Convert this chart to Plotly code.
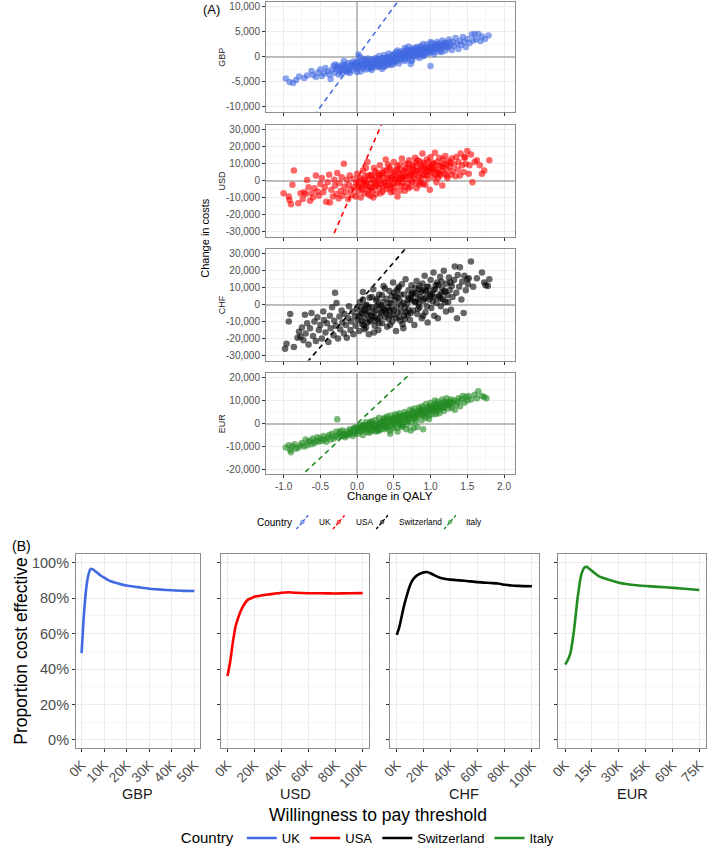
import plotly.graph_objects as go

W, H = 709, 853


def fx(p):
    return p / W


def fy(p):
    return 1 - p / H


countries = ["UK", "USA", "Switzerland", "Italy"]
currencies = ["GBP", "USD", "CHF", "EUR"]
colors = ["royalblue", "red", "black", "forestgreen"]
wtp_thresholds = [20000, 100000, 50000, 30000]

# ---- Panel A: change in QALY vs change in costs ----
gbp_points = [
    (-0.97, -4300), (-0.92, -5000), (-0.87, -5200), (-0.83, -4600), (-0.79, -3900), (-0.72, -4200),
    (-0.68, -3700), (-0.62, -2800), (-0.6, -3600), (-0.56, -4000), (-0.53, -3100), (-0.5, -2500),
    (-0.48, -3800), (-0.45, -3300), (-0.43, -2200), (-0.4, -2900), (-0.38, -3500), (-0.36, -4400),
    (-0.34, -2600), (-0.32, -1800), (-0.31, -3200),
    (-0.28, -2400), (-0.26, -1700), (-0.24, -2900), (-0.22, -2100), (-0.2, -3300), (-0.19, -1500),
    (-0.17, -2600), (-0.15, -2000), (-0.13, -3000), (-0.12, -1200), (-0.1, -2300), (-0.08, -1800),
    (-0.07, -2700), (-0.05, -900), (-0.04, -2100), (-0.02, -1500), (0.0, -2400), (0.01, -1100),
    (0.02, 500), (0.03, -1800), (0.05, -2900), (0.06, -700), (0.07, -1400), (0.09, -2000),
    (0.1, -600), (0.11, -1600), (0.12, -2500), (0.14, -1000), (0.15, -300), (0.16, -1800),
    (0.18, -1300), (0.19, -2200), (0.2, -500), (0.22, -1100), (0.23, -1700), (0.25, -200),
    (0.26, -900), (0.27, -2000), (0.29, -1300), (0.3, 200), (0.31, -600), (0.33, -1500),
    (0.34, -300), (0.35, -1000), (0.37, 400), (0.38, -1800), (0.39, -500), (0.41, 0),
    (0.42, -1200), (0.43, 700), (0.45, -400), (0.46, -900), (0.47, 300), (0.49, -1500),
    (0.5, 600), (0.51, -200), (0.53, 1000), (0.54, -700), (0.55, 200), (0.57, -1300),
    (0.58, 900), (0.59, 400), (0.61, -300), (0.62, 1200), (0.63, 600), (0.65, -800),
    (0.66, 100), (0.67, 1500), (0.69, 700), (0.7, -100), (0.71, 1100), (0.73, -1400),
    (0.74, 400), (0.75, 1700), (0.77, 900), (0.78, 200), (0.79, 1300), (0.81, 2000),
    (0.82, 600), (0.83, 1000), (0.85, -200), (0.86, 1600), (0.87, 2200), (0.89, 800),
    (0.9, 1400), (0.91, 300), (0.93, 1900), (0.94, 1100), (0.95, 2500), (0.97, 700),
    (0.98, 1600), (1.0, 2100), (1.01, 1200), (1.02, 2800), (1.04, 1800), (1.05, 600),
    (1.06, 2300), (1.08, 1500), (1.09, 3000), (1.1, 2000), (1.12, 1100), (1.13, 2600),
    (1.15, 1800), (1.16, 3300), (1.18, 2200), (1.2, 1300), (1.21, 2800), (1.23, 1900),
    (1.25, 3500), (1.27, 2400), (1.29, 1400), (1.3, 3000),
    (1.32, 2200), (1.34, 3800), (1.36, 2700), (1.38, 1600), (1.4, 3200), (1.42, 2400),
    (1.44, 4000), (1.46, 3000), (1.48, 2000), (1.5, 3600), (1.53, 2800), (1.56, 4500),
    (1.58, 3300), (1.6, 4600), (1.62, 3500), (1.65, 4600), (1.68, 3200), (1.7, 4100),
    (1.74, 3600), (1.79, 4300), (1.0, -1800), (0.74, -800),
    (-0.05, -1600), (0.0, -900), (0.04, -1300), (0.08, -2300), (0.13, -800), (0.17, -1500),
    (0.21, -2100), (0.24, -600), (0.28, -1700), (0.32, -900), (0.36, -2000), (0.4, -200),
    (0.44, -1100), (0.48, 100), (0.52, -900), (0.56, 500), (0.6, -600), (0.64, 900),
    (0.68, -300), (0.72, 1300), (0.76, 300), (0.8, 900), (0.84, 1900), (0.88, 500),
    (0.92, 1500), (0.96, 2000), (0.99, 900), (1.03, 1700), (1.07, 2500), (1.11, 1600),
    (1.14, 2200), (1.19, 2900), (1.24, 2000), (0.3, -1900), (0.45, -1600), (0.6, 200),
    (0.75, -600), (0.2, -2600), (0.1, -1300), (-0.15, -2800), (-0.2, -1900), (0.55, 1300),
    (0.7, 2100), (0.85, 600), (1.0, 3000), (0.35, -200), (0.5, -1100), (0.65, 1800),
    (0.9, 2600), (1.15, 1000), (-0.1, -3200), (0.05, -100), (0.0, -3000), (-0.25, -3500),
    (-0.3, -1500), (-0.18, -800),
    (0.02, -2000), (0.06, -1700), (0.11, -400), (0.16, -2300), (0.19, -700), (0.23, -1300),
    (0.27, -400), (0.31, -1200), (0.34, -2400), (0.38, -700), (0.41, -1600), (0.43, -300),
    (0.47, -700), (0.51, 400), (0.54, -400), (0.58, -100), (0.62, 300), (0.66, -400),
    (0.69, 1200), (0.71, 500), (0.74, 1000), (0.78, 1700), (0.81, 100), (0.83, 1300),
    (0.87, 1200), (0.9, 200), (0.93, 800), (0.97, 1400), (1.01, 1800), (1.04, 1000),
    (1.06, 1900), (1.1, 2600), (1.13, 1500), (1.17, 2400), (1.22, 2300), (1.26, 2900),
    (-0.08, -1300), (-0.12, -2500), (-0.16, -1600), (-0.22, -2700), (-0.27, -2000),
    (0.14, -1600), (0.26, -1500), (0.39, -1000), (0.52, -300), (0.63, 100), (0.77, 700),
    (0.88, 1500), (0.99, 1700), (1.08, 2100),
]

usd_points = [
    (-1.0, -7500), (-0.93, -9500), (-0.92, -11500), (-0.9, -14000), (-0.88, -2500), (-0.86, 6000),
    (-0.8, -13500), (-0.77, -7500), (-0.74, -11000), (-0.72, -7000), (-0.7, -8000), (-0.68, 300),
    (-0.66, -4000), (-0.64, -12000), (-0.62, -7500), (-0.6, -10000), (-0.58, -4500), (-0.56, 3000),
    (-0.54, -6500), (-0.52, -9000), (-0.5, -2000), (-0.48, 1500), (-0.46, -7000), (-0.44, -4000),
    (-0.42, -12500), (-0.4, -1000), (-0.38, 3500), (-0.37, -13000), (-0.35, -5500), (-0.33, -9500),
    (-0.31, 500), (-0.3, -3000), (-0.28, -8000), (-0.27, 4500), (-0.25, -10500), (-0.24, -1500),
    (-0.22, -6000), (-0.21, 2000), (-0.2, -9000), (-0.18, 10000), (-0.17, -3500), (-0.15, -7000),
    (-0.14, 500), (-0.12, -11000), (-0.11, -2500), (-0.1, 3000), (-0.08, -5500), (-0.07, -8500),
    (-0.05, 1000), (-0.04, -4000), (-0.02, -9500), (-0.01, -1500),
    (0.0, 4000), (0.01, -6500), (0.03, -2500), (0.04, 1500), (0.05, -10000), (0.06, -4500),
    (0.08, 6000), (0.09, -1000), (0.1, -7500), (0.11, 2500), (0.13, -3000), (0.14, 11000),
    (0.15, -5500), (0.16, 500), (0.18, -9000), (0.19, 3500), (0.2, -1500), (0.21, -6000),
    (0.23, 7500), (0.24, -3500), (0.25, 1500), (0.26, -8000), (0.28, 4500), (0.29, -500),
    (0.3, -4500), (0.31, 9000), (0.33, -2000), (0.34, 2500), (0.35, -6500), (0.36, 6000),
    (0.38, -1000), (0.39, 12500), (0.4, -5000), (0.41, 3000), (0.43, -2500), (0.44, 8000),
    (0.45, 500), (0.46, -7000), (0.48, 4500), (0.49, -1500), (0.5, 11000), (0.51, -4000),
    (0.53, 2000), (0.54, 6500), (0.55, -9500), (0.56, -500), (0.58, 9500), (0.59, 3500),
    (0.6, -3000), (0.61, 13000), (0.63, 1000), (0.64, 6000), (0.65, -6000), (0.66, 10000),
    (0.68, 2500), (0.69, -1500), (0.7, 7500), (0.71, 12000), (0.73, -3500), (0.74, 4000),
    (0.75, -500), (0.76, 9000), (0.78, 1500), (0.79, 13500), (0.8, 5500), (0.81, -4500),
    (0.83, 8500), (0.84, 2000), (0.85, 11500), (0.86, -1000), (0.88, 6500), (0.89, 16000),
    (0.9, 3500), (0.91, 9500), (0.93, -2500), (0.94, 5500), (0.95, 12500), (0.96, 1000),
    (0.98, 8000), (0.99, -5500), (1.0, 14000), (1.01, 4500), (1.03, 10500), (1.04, 2000),
    (1.05, 7000), (1.06, 16500), (1.08, -1000), (1.09, 11000), (1.1, 5000), (1.12, 13500),
    (1.13, 3000), (1.15, 8500), (1.16, -3000), (1.18, 10000), (1.19, 4000), (1.2, 14500),
    (1.22, 6500), (1.23, 1500), (1.25, 11500), (1.26, 8000), (1.28, 3500), (1.29, 13000),
    (1.3, 5500),
    (1.32, 9500), (1.34, 2500), (1.35, 14000), (1.37, 6500), (1.38, 11000), (1.4, 3000),
    (1.41, 16000), (1.43, 9000), (1.45, 5000), (1.46, 13500), (1.47, 14000), (1.48, 10000),
    (1.5, 17500), (1.52, 4000), (1.53, 9000), (1.55, 15500), (1.57, -1000), (1.6, 11000),
    (1.63, 12000), (1.67, 9000), (1.7, 4000), (1.73, 6000), (1.8, 12000),
    (0.2, 3000), (0.3, 1000), (0.4, -3000), (0.5, 3000), (0.6, 6500), (0.7, -4500),
    (0.8, 10500), (0.9, -2000), (0.35, 4500), (0.45, -4500), (0.55, 8500), (0.65, 2500),
    (0.75, 5000), (0.85, 4500), (0.95, 7500), (0.25, -2000), (0.15, 3000), (0.05, 500),
    (0.1, -2500), (0.42, 9500), (0.58, -6000), (0.72, 3500), (0.82, 12000), (0.92, 7000),
    (1.02, 6000), (1.12, 9000), (1.22, 9500), (0.62, -1500), (0.52, 5500), (0.32, -7500),
    (0.22, -10000), (0.12, 7500), (0.47, 1500), (0.67, 4500), (0.87, 1000), (0.97, 11000),
    (1.07, 3500), (1.17, 12500), (0.77, 6500), (0.57, 1000),
    (0.02, -3500), (0.07, -5500), (0.12, -1500), (0.17, -4000), (0.22, 500), (0.27, -2500),
    (0.32, 3500), (0.37, -500), (0.42, 1500), (0.47, -3000), (0.52, 500), (0.57, 4500),
    (0.62, 2000), (0.67, 7000), (0.72, 500), (0.77, 3000), (0.82, 5500), (0.87, 8000),
    (0.92, 3500), (0.97, 5000), (1.02, 9000), (1.07, 6500), (1.12, 4000), (1.17, 8000),
    (1.22, 3000), (1.27, 10500), (0.15, -8000), (0.25, 5500), (0.35, -3500), (0.45, 6500),
    (0.55, -1500), (0.65, -3500), (0.75, 8000), (0.85, -2500), (0.95, 3000), (1.05, 10000),
    (1.15, 5500), (0.3, 3000), (0.5, -6500), (0.7, 10000), (0.9, 10500), (1.1, 1500),
    (0.4, 6000), (0.6, 1500), (0.8, -1500), (1.0, 7500), (0.2, -4500), (0.1, 500),
]

chf_points = [
    (-0.98, -26000), (-0.96, -23000), (-0.93, -10000), (-0.91, -5500), (-0.86, -25000),
    (-0.81, -19500), (-0.79, -16000), (-0.77, -19000), (-0.75, -13500), (-0.73, -21000),
    (-0.71, -6000), (-0.7, -17000), (-0.68, -11000), (-0.66, -23500), (-0.64, -14000),
    (-0.62, -5000), (-0.6, -18500), (-0.58, -10000), (-0.56, -21500), (-0.54, -7500),
    (-0.52, -15000), (-0.5, -12000), (-0.48, -20000), (-0.46, -4000), (-0.45, -9000),
    (-0.43, -16500), (-0.41, -11000), (-0.39, -22000), (-0.37, -6500), (-0.36, -14000),
    (-0.34, -1500), (-0.32, -18000), (-0.31, -9500), (-0.29, -12500), (-0.28, 1000),
    (-0.26, -20000), (-0.24, -7000), (-0.23, -14500), (-0.21, -3500), (-0.2, -10500),
    (-0.18, -17000), (-0.17, -5500), (-0.15, -12000), (-0.14, -19500), (-0.12, -8000),
    (-0.11, -1000), (-0.09, -15000), (-0.08, -10000), (-0.06, -4000), (-0.05, -17500),
    (-0.03, -7000), (-0.02, -12500), (-0.3, 7000),
    (0.0, -2500), (0.01, -9000), (0.03, -15500), (0.04, 1500), (0.05, -5500), (0.07, -11500),
    (0.08, 7500), (0.09, -3000), (0.1, -8000), (0.12, -13500), (0.13, 0), (0.14, -6000),
    (0.16, -17500), (0.17, 4000), (0.18, -10000), (0.2, -1500), (0.21, -7000), (0.22, 9000),
    (0.24, -12500), (0.25, -3500), (0.26, 2500), (0.28, -8500), (0.29, -15000), (0.3, 6000),
    (0.32, -5000), (0.33, -500), (0.34, -11000), (0.36, 11000), (0.37, -3000), (0.38, -7500),
    (0.4, 3500), (0.41, -13000), (0.42, -1500), (0.44, 8000), (0.45, -6500), (0.46, 1000),
    (0.48, -10000), (0.49, 13000), (0.5, -3500), (0.52, 5000), (0.53, -15500), (0.54, -1000),
    (0.56, 9500), (0.57, -7500), (0.58, 2500), (0.6, -4000), (0.61, 12000), (0.62, -11500),
    (0.64, 6000), (0.65, -2000), (0.66, 15000), (0.68, 500), (0.69, -6000), (0.7, 8500),
    (0.72, -9000), (0.73, 3500), (0.74, 11500), (0.76, -3500), (0.77, 6500), (0.78, -12000),
    (0.8, 1500), (0.81, 14000), (0.82, -5500), (0.84, 9000), (0.85, -1500), (0.86, 4500),
    (0.88, -8000), (0.89, 12500), (0.9, 2000), (0.92, 17000), (0.93, -4500), (0.94, 7500),
    (0.96, -10500), (0.97, 10500), (0.98, 3000), (1.0, 14500), (1.01, -2000), (1.02, 6000),
    (1.04, 19000), (1.05, -6500), (1.06, 9000), (1.08, 1000), (1.09, 13000), (1.1, -8000),
    (1.12, 5500), (1.13, 16500), (1.14, -1000), (1.16, 10000), (1.17, 3000), (1.18, 20000),
    (1.2, 7500), (1.21, -4000), (1.22, 12500), (1.24, 1500), (1.25, 16000), (1.26, 8500),
    (1.28, -3000), (1.29, 11000), (1.3, 4500),
    (1.32, 14500), (1.33, 22500), (1.35, 7000), (1.36, -8000), (1.37, 17500), (1.39, 10500),
    (1.4, 22000), (1.42, 3000), (1.43, 13500), (1.45, -5000), (1.46, 17000), (1.48, 8500),
    (1.5, 15000), (1.51, 12000), (1.52, 15500), (1.55, 25500), (1.58, 10500), (1.63, 15500),
    (1.7, 19000), (1.73, 13000), (1.75, 11500), (1.78, 11000), (1.8, 15000),
    (0.15, -4500), (0.25, -9500), (0.35, 1500), (0.45, -12000), (0.55, 4000), (0.65, -8500),
    (0.75, 2500), (0.85, 11000), (0.95, -1000), (1.05, 4500), (1.15, 7000), (0.05, -1500),
    (0.1, -14500), (0.2, 4500), (0.3, -11000), (0.4, -5500), (0.5, 7000), (0.6, -500),
    (0.7, -3000), (0.8, 6500), (0.9, -6500), (1.0, 5000), (1.1, 11500), (1.2, 1500),
    (0.12, -500), (0.27, 3500), (0.43, -8500), (0.57, 10500), (0.63, -14000), (0.83, 3500),
    (0.47, 5000), (0.33, -4000), (0.17, -9000), (0.07, -5000), (0.93, 8500), (0.73, -5000),
    (0.53, -8000), (0.38, 9500), (0.23, -16500), (0.08, 3000),
    (0.02, -6500), (0.06, -9500), (0.11, -3500), (0.16, -1500), (0.19, -6500), (0.23, -4500),
    (0.27, -1000), (0.31, -7500), (0.35, -2000), (0.39, -4000), (0.43, 1000), (0.47, -2500),
    (0.51, 2500), (0.55, -4500), (0.59, 6000), (0.63, 1000), (0.67, -4500), (0.71, 4000),
    (0.75, 7000), (0.79, 1500), (0.83, -2500), (0.87, 7500), (0.91, 3500), (0.95, 10500),
    (0.99, 6500), (1.03, 2000), (1.07, 11500), (1.11, 4500), (1.15, 13500), (1.19, 8000),
    (1.23, 5500), (1.27, 13000), (0.14, -10500), (0.24, -7500), (0.34, 5500), (0.44, -3500),
    (0.54, 8500), (0.64, -6500), (0.74, 5500), (0.84, 500), (0.94, 4000), (1.04, 8500),
    (1.14, 3500), (0.29, 0), (0.49, -6000), (0.69, 3000), (0.89, 8500), (0.09, -12000),
    (0.59, -9500), (0.79, 10000),
]

eur_points = [
    (-0.97, -10500), (-0.93, -9500), (-0.91, -11500), (-0.9, -12500), (-0.88, -10000),
    (-0.85, -9000), (-0.83, -11000), (-0.8, -10500), (-0.77, -9500), (-0.75, -8500),
    (-0.72, -10000), (-0.7, -7000), (-0.68, -9500), (-0.66, -8000), (-0.64, -7500),
    (-0.62, -9000), (-0.6, -6500), (-0.58, -8500), (-0.56, -7500), (-0.54, -6000),
    (-0.52, -8000), (-0.5, -6500), (-0.48, -7500), (-0.46, -5500), (-0.44, -7000),
    (-0.42, -8000), (-0.4, -6000), (-0.38, -5000), (-0.36, -7000), (-0.34, -4500),
    (-0.32, -6500), (-0.3, -5500), (-0.28, -3500), (-0.27, 1800), (-0.26, -6000),
    (-0.24, -4500), (-0.22, -5500), (-0.2, -3000), (-0.18, -4500), (-0.16, -6000),
    (-0.14, -3500), (-0.12, -5000), (-0.1, -2500), (-0.08, -4000), (-0.06, -5500),
    (-0.04, -2000), (-0.02, -3500),
    (0.0, -1500), (0.01, -4500), (0.03, -2500), (0.04, -500), (0.05, -3500), (0.07, -1500),
    (0.08, -5000), (0.09, -500), (0.1, -2500), (0.12, 500), (0.13, -3500), (0.14, -1000),
    (0.16, -4000), (0.17, 0), (0.18, -2000), (0.2, 1000), (0.21, -3000), (0.22, -500),
    (0.24, -2000), (0.25, 1500), (0.26, -3500), (0.28, 0), (0.29, -1500), (0.3, 2500),
    (0.32, -2500), (0.33, 500), (0.34, -1000), (0.36, 2000), (0.37, -2500), (0.38, 1000),
    (0.4, -500), (0.41, 3000), (0.42, -1500), (0.44, 1500), (0.45, -3000), (0.46, 3500),
    (0.48, 0), (0.49, 2000), (0.5, -1000), (0.52, 4000), (0.53, 1000), (0.54, -2000),
    (0.56, 2500), (0.57, 500), (0.58, 4500), (0.6, 1500), (0.61, -1500), (0.62, 3500),
    (0.64, 500), (0.65, 5000), (0.66, 2000), (0.68, -500), (0.69, 4000), (0.7, 1500),
    (0.72, 6000), (0.73, 3000), (0.74, 500), (0.76, 4500), (0.77, -2000), (0.78, 6500),
    (0.8, 2500), (0.81, 5000), (0.82, -1500), (0.84, 7000), (0.85, 3500), (0.86, 5500),
    (0.88, 1500), (0.89, 7500), (0.9, 4500), (0.92, 6000), (0.93, 2500), (0.94, 8500),
    (0.96, 5000), (0.97, 7000), (0.98, 3500), (1.0, 9000), (1.01, 6000), (1.02, 4000),
    (1.04, 8000), (1.05, 6500), (1.06, 10000), (1.08, 5000), (1.09, 7500), (1.1, 9500),
    (1.12, 4500), (1.13, 8500), (1.14, 6500), (1.16, 10500), (1.17, 7000), (1.18, 5500),
    (1.2, 9000), (1.21, 8000), (1.22, 11000), (1.24, 6500), (1.25, 9500), (1.26, 8000),
    (1.28, 10500), (1.29, 7000), (1.3, 9000),
    (1.32, 10000), (1.33, 6000), (1.35, 8500), (1.37, 9500), (1.38, 11000), (1.4, 7500),
    (1.42, 10500), (1.44, 12000), (1.46, 9000), (1.48, 11500), (1.5, 10000), (1.52, 12000),
    (1.55, 10500), (1.6, 12500), (1.63, 11000), (1.65, 14000), (1.7, 12000), (1.73, 11500),
    (1.76, 11000),
    (0.15, -2500), (0.25, -1000), (0.35, -500), (0.45, 1000), (0.55, 2000), (0.65, 3000),
    (0.75, 3000), (0.85, 5500), (0.95, 6500), (1.05, 7500), (1.15, 8500), (0.1, -1000),
    (0.2, -1500), (0.3, -500), (0.4, 1500), (0.5, 2500), (0.6, 3000), (0.7, 3500),
    (0.8, 4500), (0.9, 5500), (1.0, 6500), (1.1, 7000), (0.05, -2000), (0.45, -4500),
    (0.55, -3500), (0.67, -2500), (0.73, -3000), (0.9, -2500), (0.62, -1000), (0.0, -3000),
    (-0.1, -4000), (0.3, -3000), (0.4, -2000), (0.5, 500), (0.6, -500), (0.8, 1000),
    (0.98, 2000), (1.07, 4000),
    (0.02, -2000), (0.06, -3000), (0.11, -1500), (0.15, -500), (0.19, -3500), (0.23, -1000),
    (0.27, -2500), (0.31, 0), (0.35, 1000), (0.39, -1500), (0.43, 500), (0.47, 2000),
    (0.51, 1000), (0.55, 3500), (0.59, 1500), (0.63, 2500), (0.67, 4000), (0.71, 2500),
    (0.75, 5500), (0.79, 3500), (0.83, 4000), (0.87, 6500), (0.91, 3500), (0.95, 4500),
    (0.99, 7500), (1.03, 5500), (1.07, 8500), (1.11, 6000), (1.15, 7500), (1.19, 9500),
    (1.23, 8500), (1.27, 9000), (-0.03, -4500), (-0.07, -3000), (-0.11, -4500),
    (-0.15, -5000), (-0.19, -5500), (-0.23, -3500), (0.08, -1000), (0.18, 500),
    (0.28, -3000), (0.38, 2500), (0.48, -2000), (0.58, -500), (0.68, 1000), (0.78, 2000),
    (0.88, 4000), (0.98, 5500), (1.08, 6500), (1.18, 7000),
]

scatter_sets = [gbp_points, usd_points, chf_points, eur_points]

# tick labels panel A
qaly_ticks = [-1.0, -0.5, 0.0, 0.5, 1.0, 1.5, 2.0]
qaly_ticktext = ["-1.0", "-0.5", "0.0", "0.5", "1.0", "1.5", "2.0"]
cost_ticks = [
    [-10000, -5000, 0, 5000, 10000],
    [-30000, -20000, -10000, 0, 10000, 20000, 30000],
    [-30000, -20000, -10000, 0, 10000, 20000, 30000],
    [-20000, -10000, 0, 10000, 20000],
]
cost_ticktext = [
    ["-10,000", "-5,000", "0", "5,000", "10,000"],
    ["-30,000", "-20,000", "-10,000", "0", "10,000", "20,000", "30,000"],
    ["-30,000", "-20,000", "-10,000", "0", "10,000", "20,000", "30,000"],
    ["-20,000", "-10,000", "0", "10,000", "20,000"],
]
cost_minor = [2500, 5000, 5000, 5000]
cost_ranges = [[-11000, 11000], [-33300, 33000], [-33000, 33000], [-21800, 21800]]
qaly_range = [-1.24, 2.15]

# ---- Panel B: CEAC ----
gbp_wtp = [0, 1000, 2000, 3000, 4000, 5000, 6000, 8000, 10000, 12000, 15000, 18000, 20000,
           25000, 30000, 35000, 40000, 45000, 50000]
gbp_prop = [0.49, 0.70, 0.85, 0.93, 0.965, 0.962, 0.952, 0.932, 0.915, 0.90, 0.886, 0.876,
            0.871, 0.862, 0.853, 0.848, 0.844, 0.841, 0.840]
usd_wtp = [0, 2000, 4000, 6000, 8000, 10000, 12000, 15000, 18000, 20000, 25000, 30000,
           40000, 45000, 50000, 60000, 70000, 80000, 90000, 100000]
usd_prop = [0.36, 0.44, 0.55, 0.64, 0.69, 0.73, 0.76, 0.79, 0.80, 0.808, 0.815, 0.82,
            0.83, 0.833, 0.83, 0.827, 0.827, 0.826, 0.827, 0.828]
chf_wtp = [0, 2000, 5000, 8000, 10000, 12000, 15000, 18000, 20000, 22000, 25000, 28000,
           32000, 40000, 50000, 60000, 70000, 75000, 80000, 85000, 90000, 100000]
chf_prop = [0.593, 0.64, 0.745, 0.83, 0.875, 0.905, 0.928, 0.94, 0.945, 0.947, 0.94, 0.928,
            0.915, 0.904, 0.898, 0.89, 0.885, 0.882, 0.875, 0.871, 0.869, 0.867]
eur_wtp = [0, 1000, 3000, 5000, 7000, 9000, 11000, 12000, 13000, 16000, 19000, 24000,
           29000, 35000, 40000, 48000, 56000, 65000, 75000]
eur_prop = [0.425, 0.44, 0.49, 0.62, 0.80, 0.93, 0.974, 0.976, 0.970, 0.945, 0.923, 0.905,
            0.89, 0.878, 0.872, 0.866, 0.861, 0.854, 0.846]

ceac_wtp = [gbp_wtp, usd_wtp, chf_wtp, eur_wtp]
ceac_prop = [gbp_prop, usd_prop, chf_prop, eur_prop]

wtp_ticks = [
    [0, 10000, 20000, 30000, 40000, 50000],
    [0, 20000, 40000, 60000, 80000, 100000],
    [0, 20000, 40000, 60000, 80000, 100000],
    [0, 15000, 30000, 45000, 60000, 75000],
]
wtp_ticktext = [
    ["0K", "10K", "20K", "30K", "40K", "50K"],
    ["0K", "20K", "40K", "60K", "80K", "100K"],
    ["0K", "20K", "40K", "60K", "80K", "100K"],
    ["0K", "15K", "30K", "45K", "60K", "75K"],
]
wtp_ranges = [[-2500, 52500], [-5000, 105000], [-5000, 105000], [-3750, 78750]]
prop_ticks = [0, 0.2, 0.4, 0.6, 0.8, 1.0]
prop_ticktext = ["0%", "20%", "40%", "60%", "80%", "100%"]

# ---- layout geometry (pixels) ----
A_x = (260, 513)
A_y = [(1, 112), (125, 238), (250, 363), (376, 477)]
B_x = [(67, 193), (214, 365), (386, 537), (557, 707)]
B_y = (558, 754)
legA_glyph_x = [297, 334, 378, 447]
legA_text_x = [312, 349, 393, 461]
legA_y = 526

FONT = "Liberation Sans, Arial, Helvetica, sans-serif"
GRID = "#ebebeb"
MINOR = "#f6f6f6"
BORDER = "#8c8c8c"
TICKC = "#4d4d4d"

fig = go.Figure()
layout = dict(
    width=W, height=H, autosize=False,
    margin=dict(l=0, r=0, t=0, b=0),
    paper_bgcolor="white", plot_bgcolor="white",
    font=dict(family=FONT, color="black"),
    annotations=[], shapes=[],
)

# Panel A
for i in range(4):
    n = i + 1
    xa = "x" if n == 1 else f"x{n}"
    ya = "y" if n == 1 else f"y{n}"
    pts = scatter_sets[i]
    fig.add_trace(go.Scatter(
        x=[p[0] for p in pts], y=[p[1] for p in pts], mode="markers",
        marker=dict(color=colors[i], size=6.5, opacity=0.6, line=dict(width=0)),
        xaxis=xa, yaxis=ya, showlegend=False, hoverinfo="skip",
    ))
    w = wtp_thresholds[i]
    fig.add_trace(go.Scatter(
        x=qaly_range, y=[w * qaly_range[0], w * qaly_range[1]], mode="lines",
        line=dict(color=colors[i], width=1.6, dash="5px,4px"),
        xaxis=xa, yaxis=ya, showlegend=False, hoverinfo="skip",
    ))
    layout[f"xaxis{n}"] = dict(
        domain=[fx(A_x[0]), fx(A_x[1])], anchor=ya, range=qaly_range,
        tickmode="array", tickvals=qaly_ticks, ticktext=qaly_ticktext,
        showticklabels=(n == 4), tickfont=dict(size=10, color=TICKC),
        ticks="outside", ticklen=3, tickcolor="#333333",
        showgrid=True, gridcolor=GRID, gridwidth=1,
        minor=dict(tick0=-0.75, dtick=0.5, showgrid=True, gridcolor=MINOR, gridwidth=0.6, ticks=""),
        zeroline=True, zerolinecolor="#bdbdbd", zerolinewidth=1.5,
        showline=True, mirror=True, linecolor=BORDER, linewidth=1,
    )
    layout[f"yaxis{n}"] = dict(
        domain=[fy(A_y[i][1]), fy(A_y[i][0])], anchor=xa, range=cost_ranges[i],
        tickmode="array", tickvals=cost_ticks[i], ticktext=cost_ticktext[i],
        tickfont=dict(size=10, color=TICKC),
        ticks="outside", ticklen=3, tickcolor="#333333",
        showgrid=True, gridcolor=GRID, gridwidth=1,
        minor=dict(tick0=cost_minor[i], dtick=cost_minor[i] * 2, showgrid=True,
                   gridcolor=MINOR, gridwidth=0.6, ticks=""),
        zeroline=True, zerolinecolor="#bdbdbd", zerolinewidth=1.5,
        showline=True, mirror=True, linecolor=BORDER, linewidth=1,
    )
    layout["annotations"].append(dict(
        text=currencies[i], xref="paper", yref="paper",
        x=fx(215), y=fy((A_y[i][0] + A_y[i][1]) / 2), textangle=-90,
        showarrow=False, font=dict(size=9, color="#1a1a1a"), xanchor="center", yanchor="middle",
    ))

# legend A (compact, ggplot style keys: diagonal dashed line with a point)
layout["annotations"].append(dict(
    text="Country", xref="paper", yref="paper", x=fx(249), y=fy(legA_y),
    showarrow=False, font=dict(size=10), xanchor="left", yanchor="middle",
))
for i in range(4):
    gx = legA_glyph_x[i]
    layout["shapes"].append(dict(
        type="line", xref="paper", yref="paper",
        x0=fx(gx - 6), y0=fy(legA_y + 7), x1=fx(gx + 6), y1=fy(legA_y - 7),
        line=dict(color=colors[i], width=1.4, dash="3px,2px"),
    ))
    layout["shapes"].append(dict(
        type="circle", xref="paper", yref="paper",
        x0=fx(gx - 2.3), y0=fy(legA_y + 2.3), x1=fx(gx + 2.3), y1=fy(legA_y - 2.3),
        fillcolor=colors[i], opacity=0.6, line=dict(width=0),
    ))
    layout["annotations"].append(dict(
        text=countries[i], xref="paper", yref="paper", x=fx(legA_text_x[i]), y=fy(legA_y),
        showarrow=False, font=dict(size=8.3), xanchor="left", yanchor="middle",
    ))

# Panel B
for i in range(4):
    n = i + 5
    xa, ya = f"x{n}", f"y{n}"
    fig.add_trace(go.Scatter(
        x=ceac_wtp[i], y=ceac_prop[i], mode="lines", name=countries[i],
        line=dict(color=colors[i], width=2.6, shape="spline", smoothing=0.6),
        xaxis=xa, yaxis=ya, legend="legend", hoverinfo="skip",
    ))
    layout[f"xaxis{n}"] = dict(
        domain=[fx(B_x[i][0]), fx(B_x[i][1])], anchor=ya, range=wtp_ranges[i],
        tickmode="array", tickvals=wtp_ticks[i], ticktext=wtp_ticktext[i],
        tickangle=-45, tickfont=dict(size=13.5, color=TICKC),
        ticks="outside", ticklen=3, tickcolor="#333333",
        showgrid=True, gridcolor=GRID, gridwidth=1, zeroline=False,
        showline=True, mirror=True, linecolor=BORDER, linewidth=1,
    )
    layout[f"yaxis{n}"] = dict(
        domain=[fy(B_y[1]), fy(B_y[0])], anchor=xa, range=[-0.045, 1.05],
        tickmode="array", tickvals=prop_ticks, ticktext=prop_ticktext,
        showticklabels=(i == 0), tickfont=dict(size=14.5, color=TICKC),
        ticks="outside", ticklen=3, tickcolor="#333333",
        showgrid=True, gridcolor=GRID, gridwidth=1, zeroline=False,
        minor=dict(tick0=0.1, dtick=0.2, showgrid=True, gridcolor=MINOR, gridwidth=0.6, ticks=""),
        showline=True, mirror=True, linecolor=BORDER, linewidth=1,
    )
    layout["annotations"].append(dict(
        text=currencies[i], xref="paper", yref="paper",
        x=fx((B_x[i][0] + B_x[i][1]) / 2), y=fy(801),
        showarrow=False, font=dict(size=14.5, color="#1a1a1a"), xanchor="center", yanchor="middle",
    ))

layout["annotations"] += [
    dict(text="(A)", xref="paper", yref="paper", x=fx(205), y=fy(9), showarrow=False,
         font=dict(size=13), xanchor="center", yanchor="middle"),
    dict(text="Change in costs", xref="paper", yref="paper", x=fx(198), y=fy(239),
         textangle=-90, showarrow=False, font=dict(size=11), xanchor="center", yanchor="middle"),
    dict(text="Change in QALY", xref="paper", yref="paper", x=fx(386), y=fy(500),
         showarrow=False, font=dict(size=11.5), xanchor="center", yanchor="middle"),
    dict(text="(B)", xref="paper", yref="paper", x=fx(12), y=fy(550), showarrow=False,
         font=dict(size=14), xanchor="center", yanchor="middle"),
    dict(text="Proportion cost effective", xref="paper", yref="paper", x=fx(11), y=fy(656),
         textangle=-90, showarrow=False, font=dict(size=17.5), xanchor="center", yanchor="middle"),
    dict(text="Willingness to pay threshold", xref="paper", yref="paper", x=fx(374), y=fy(822),
         showarrow=False, font=dict(size=17.5), xanchor="center", yanchor="middle"),
]

layout["legend"] = dict(
    orientation="h", x=fx(365), y=fy(845), xanchor="center", yanchor="middle",
    title=dict(text="Country", font=dict(size=15), side="left"),
    font=dict(size=13), bgcolor="rgba(0,0,0,0)", itemwidth=30,
)

fig.update_layout(**layout)
fig.write_html(
    "out.html",
    config={"displayModeBar": False},
    post_script="document.body.style.margin='0px';document.body.style.overflow='hidden';"
                "document.documentElement.style.overflow='hidden';",
)
